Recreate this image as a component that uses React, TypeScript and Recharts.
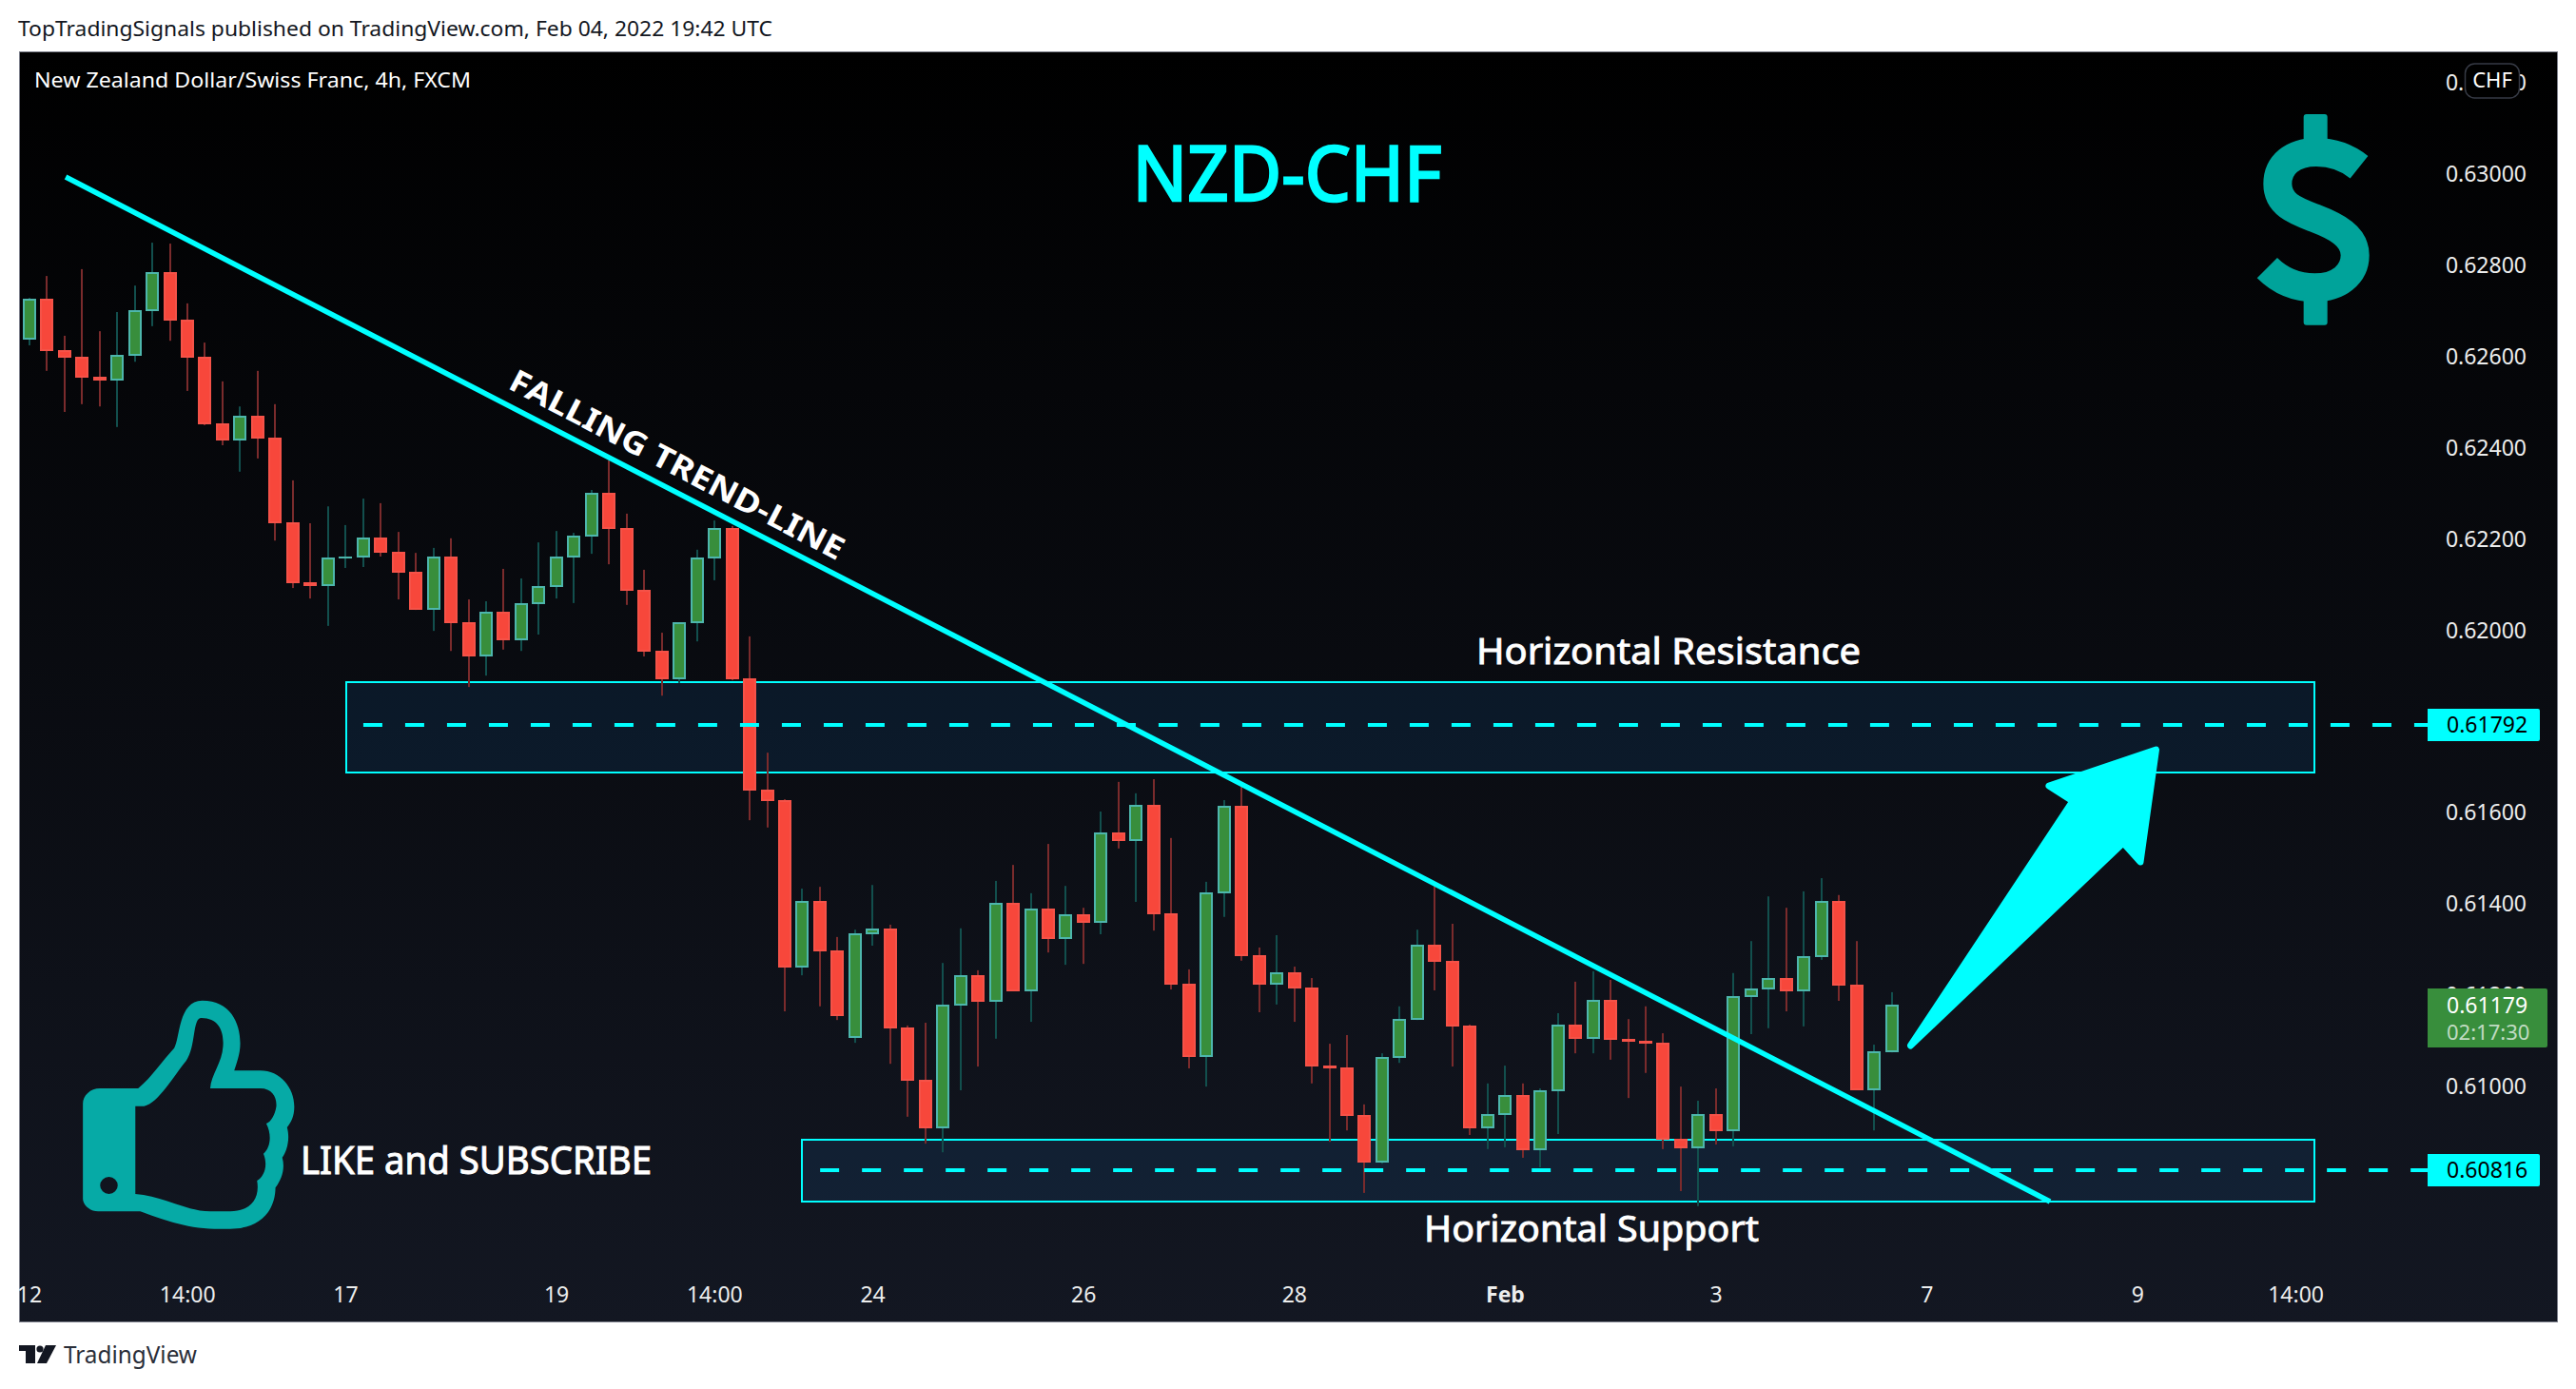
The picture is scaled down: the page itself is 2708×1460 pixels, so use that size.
import React from "react";
import { Bar, ComposedChart, ReferenceArea, ReferenceLine, XAxis, YAxis } from "recharts";

// Prices are stored in points of 0.00001
const opens = [
  62636, 62726, 62613, 62599, 62555, 62547, 62601, 62699, 62785, 62680,
  62599, 62453, 62415, 62470, 62422, 62236, 62105, 62096, 62157, 62159,
  62203, 62171, 62128, 62044, 62161, 62017, 61942, 62040, 61977, 62057,
  62094, 62159, 62205, 62301, 62223, 62088, 61954, 61892, 62015, 62157,
  62223, 61894, 61650, 61627, 61260, 61406, 61298, 61106, 61333, 61346,
  61129, 61014, 60908, 61177, 61243, 61185, 61402, 61208, 61389, 61323,
  61377, 61358, 61556, 61537, 61617, 61379, 61225, 61064, 61423, 61615,
  61287, 61222, 61250, 61216, 61045, 61041, 60937, 60832, 61062, 61145,
  61310, 61275, 61133, 60908, 60937, 60981, 60860, 60989, 61135, 61104,
  61189, 61104, 61099, 61095, 60885, 60864, 60939, 60901, 61195, 61212,
  61237, 61208, 61283, 61406, 61222, 60991, 61074,
];
const closes = [
  62726, 62611, 62597, 62553, 62547, 62603, 62701, 62785, 62678, 62597,
  62451, 62415, 62470, 62420, 62234, 62103, 62096, 62159, 62161, 62203,
  62169, 62126, 62044, 62161, 62015, 61942, 62040, 61977, 62059, 62096,
  62161, 62207, 62301, 62222, 62086, 61952, 61892, 62017, 62159, 62223,
  61892, 61648, 61625, 61260, 61406, 61295, 61154, 61335, 61346, 61127,
  61012, 60908, 61179, 61243, 61185, 61402, 61208, 61389, 61323, 61377,
  61358, 61556, 61537, 61617, 61377, 61222, 61064, 61425, 61615, 61285,
  61222, 61250, 61214, 61043, 61039, 60935, 60832, 61064, 61147, 61310,
  61273, 61131, 60908, 60939, 60981, 60860, 60991, 61135, 61104, 61189,
  61101, 61097, 61093, 60883, 60864, 60939, 60901, 61197, 61214, 61237,
  61208, 61285, 61406, 61220, 60991, 61077, 61179,
];
const highs = [
  62728, 62776, 62645, 62791, 62655, 62697, 62755, 62849, 62847, 62716,
  62630, 62545, 62490, 62568, 62495, 62328, 62234, 62271, 62230, 62288,
  62278, 62215, 62169, 62180, 62201, 62067, 62063, 62134, 62113, 62192,
  62217, 62213, 62307, 62372, 62255, 62132, 61994, 62017, 62176, 62240,
  62228, 61986, 61731, 61629, 61433, 61437, 61327, 61343, 61441, 61354,
  61133, 61139, 61270, 61346, 61254, 61450, 61485, 61423, 61531, 61439,
  61391, 61602, 61667, 61642, 61673, 61544, 61256, 61448, 61627, 61663,
  61304, 61331, 61262, 61237, 61093, 61112, 60960, 61072, 61175, 61343,
  61439, 61356, 61135, 61006, 61045, 61006, 60995, 61160, 61229, 61252,
  61233, 61147, 61175, 61116, 60999, 60968, 60995, 61248, 61318, 61416,
  61391, 61427, 61456, 61419, 61318, 61091, 61206,
];
const lows = [
  62624, 62568, 62478, 62495, 62490, 62445, 62588, 62666, 62634, 62524,
  62449, 62405, 62347, 62376, 62196, 62092, 62069, 62009, 62136, 62138,
  62161, 62067, 62044, 61998, 61954, 61875, 61900, 61957, 61954, 61990,
  62069, 62059, 62167, 62144, 62055, 61942, 61856, 61884, 61975, 62109,
  61890, 61583, 61567, 61164, 61243, 61175, 61145, 61095, 61308, 61049,
  60933, 60874, 60855, 60991, 61043, 61104, 61208, 61141, 61293, 61266,
  61268, 61333, 61521, 61404, 61341, 61212, 61039, 60999, 61371, 61275,
  61162, 61179, 61141, 61006, 60878, 60903, 60766, 60830, 61051, 61145,
  61210, 61043, 60893, 60862, 60866, 60843, 60822, 60895, 61072, 61072,
  61058, 60974, 61029, 60862, 60770, 60737, 60872, 60868, 61114, 61127,
  61164, 61131, 61277, 61187, 60991, 60903, 61074,
];

const priceTicks = [0.632, 0.63, 0.628, 0.626, 0.624, 0.622, 0.62, 0.618, 0.616, 0.614, 0.612, 0.61];
const timeTickIndex = [0, 9, 18, 30, 39, 48, 60, 72, 84, 96, 108, 120, 129];
const timeTickLabels = ["12", "14:00", "17", "19", "14:00", "24", "26", "28", "Feb", "3", "7", "9", "14:00"];

const resistanceLevel = 0.61792;
const supportLevel = 0.60816;
const lastPrice = 0.61179;
const countdown = "02:17:30";
const resistanceZone = { x1: 18.03, x2: 130.05, y1: 0.61886, y2: 0.61688 };
const supportZone = { x1: 43.96, x2: 130.05, y1: 0.60883, y2: 0.60747 };
const trend = { x1: 2.06, y1: 0.62993, x2: 115, y2: 0.60747 };

const table = opens.map((o, i) => ({
  i,
  open: o / 1e5,
  close: closes[i] / 1e5,
  high: highs[i] / 1e5,
  low: lows[i] / 1e5,
}));

const FONT = '"Noto Sans", "Open Sans", sans-serif';
const CYAN = "#00ffff";

function Candle(props: any) {
  const { x, y, width, height, payload } = props;
  const up = payload.close >= payload.open;
  const perUnit = height / (payload.high - payload.low);
  const cx = Math.round(x + width / 2);
  const top = Math.round(y + (payload.high - Math.max(payload.open, payload.close)) * perUnit);
  const bottom = Math.round(y + (payload.high - Math.min(payload.open, payload.close)) * perUnit);
  const h = Math.max(bottom - top, 2);
  const border = up ? "#4db6ac" : "#f55248";
  const fill = up ? "#388e3c" : "#f7473b";
  return (
    <g>
      <rect x={cx - 1} y={y} width={2} height={height} fill={up ? "#124f4d" : "#7a2b2c"} />
      <rect x={cx - 7} y={top} width={14} height={h} fill={border} />
      {h > 4 && <rect x={cx - 5} y={top + 2} width={10} height={h - 4} fill={fill} />}
    </g>
  );
}

function TimeTick(props: any) {
  const { x, y, payload } = props;
  const label = timeTickLabels[timeTickIndex.indexOf(payload.value)];
  return (
    <text
      x={x}
      y={y + 21}
      textAnchor="middle"
      fill="#eceded"
      fontSize={23}
      fontFamily={FONT}
      fontWeight={label === "Feb" ? 700 : 400}
    >
      {label}
    </text>
  );
}

function PriceTick(props: any) {
  const { x, y, payload } = props;
  return (
    <text x={x} y={y + 8.5} textAnchor="end" fill="#eceded" fontSize={23} fontFamily={FONT}>
      {payload.value.toFixed(5)}
    </text>
  );
}

const zoneShape = (p: any) => (
  <rect
    x={Math.round(p.x)}
    y={Math.round(p.y)}
    width={Math.round(p.width)}
    height={Math.round(p.height)}
    fill="#2196f3"
    fillOpacity={0.1}
    stroke={CYAN}
    strokeWidth={2}
  />
);
const dashShape = (p: any) => (
  <line x1={p.x1} y1={Math.round(p.y1)} x2={p.x2} y2={Math.round(p.y2)} stroke={CYAN} strokeWidth={4} strokeDasharray="20 24" />
);
const trendShape = (p: any) => <line x1={p.x1} y1={p.y1} x2={p.x2} y2={p.y2} stroke={CYAN} strokeWidth={5.5} />;

function Overlay() {
  const label = (py: number, value: number) => (
    <g>
      <path d={`M2552 ${py - 17} H2668 Q2670 ${py - 17} 2670 ${py - 15} V${py + 15} Q2670 ${py + 17} 2668 ${py + 17} H2552 Z`} fill={CYAN} />
      <text x={2572} y={py + 8} fontSize={23} fontFamily={FONT} fill="#000">
        {value.toFixed(5)}
      </text>
    </g>
  );
  return (
    <svg width={2708} height={1460} style={{ position: "absolute", left: 0, top: 0, pointerEvents: "none" }}>
      <text x={19} y={38} fontSize={22.5} fontFamily={FONT} fill="#131722" textLength={793} lengthAdjust="spacingAndGlyphs">
        TopTradingSignals published on TradingView.com, Feb 04, 2022 19:42 UTC
      </text>
      <text x={36} y={92} fontSize={22} fontFamily={FONT} fill="#ffffff" textLength={459} lengthAdjust="spacingAndGlyphs">
        New Zealand Dollar/Swiss Franc, 4h, FXCM
      </text>

      <text x={1353} y={211} textAnchor="middle" fontSize={80} fontFamily={FONT} fill={CYAN} stroke={CYAN} strokeWidth={2.5} textLength={325} lengthAdjust="spacingAndGlyphs">
        NZD-CHF
      </text>
      <text x={1754} y={698} textAnchor="middle" fontSize={39} fontFamily={FONT} fill="#ffffff" stroke="#ffffff" strokeWidth={0.9} textLength={404} lengthAdjust="spacingAndGlyphs">
        Horizontal Resistance
      </text>
      <text x={1673} y={1305} textAnchor="middle" fontSize={39} fontFamily={FONT} fill="#ffffff" stroke="#ffffff" strokeWidth={0.9} textLength={352} lengthAdjust="spacingAndGlyphs">
        Horizontal Support
      </text>
      <text x={316} y={1234} fontSize={40} fontFamily={FONT} fill="#ffffff" stroke="#ffffff" strokeWidth={1} textLength={369} lengthAdjust="spacingAndGlyphs">
        LIKE and SUBSCRIBE
      </text>
      <text
        transform="translate(712 488) rotate(27.6)"
        x={0}
        y={12}
        textAnchor="middle"
        fontSize={33}
        fontWeight={700}
        fontFamily={FONT}
        fill="#ffffff"
        textLength={392}
        lengthAdjust="spacingAndGlyphs"
      >
        FALLING TREND-LINE
      </text>

      {/* dollar sign */}
      <g transform="translate(2300 40) scale(0.33333)">
        <path
          d="M540 407 C500 375 450 360 405 360 C330 360 283 400 283 460 C283 525 340 545 400 568 C470 595 527 625 527 685 C527 745 475 787 400 787 C340 787 290 765 250 725"
          fill="none"
          stroke="#00a39a"
          strokeWidth={90}
        />
        <rect x={365} y={240} width={75} height={90} rx={9} fill="#00a39a" />
        <rect x={365} y={815} width={75} height={90} rx={9} fill="#00a39a" />
      </g>

      {/* thumb */}
      <g transform="translate(40 1020) scale(0.42088 0.33333)">
        <path
          fillRule="evenodd"
          fill="#06aaa6"
          d="M112 420 C112 395 130 372 155 372 L250 372 C285 335 310 285 340 245 C355 215 350 95 410 95 C480 95 505 165 505 230 C505 265 495 295 490 316 L555 316 C605 316 640 370 640 430 C640 460 632 480 622 495 C630 530 622 570 610 590 C618 625 608 660 593 685 C592 770 545 815 480 815 L440 815 C370 815 300 780 255 760 L150 760 C130 760 112 740 112 720 Z
             M243 428 L265 428 C300 420 340 330 370 285 C395 240 385 150 408 150 C450 150 465 190 462 240 C460 290 432 330 430 372 L555 372 C585 372 597 400 595 430 C592 455 582 478 570 483 C585 520 580 560 563 578 C575 615 565 650 547 663 C555 720 530 760 480 760 L430 760 C370 760 310 710 243 705 Z
             M155 678 A22 27 0 1 0 199 678 A22 27 0 1 0 155 678 Z"
        />
      </g>

      {/* arrow */}
      <path
        d="M2008.5 1099 L2179 842 L2154 826 L2266.5 788 L2250 906 L2232 886 Z"
        fill={CYAN}
        stroke={CYAN}
        strokeWidth={7}
        strokeLinejoin="round"
      />

      {/* price labels */}
      {label(762, resistanceLevel)}
      {label(1230, supportLevel)}
      <path d="M2552 1039 H2676 Q2678 1039 2678 1041 V1099 Q2678 1101 2676 1101 H2552 Z" fill="#388e3c" />
      <text x={2572} y={1065} fontSize={23} fontFamily={FONT} fill="#ffffff">
        {lastPrice.toFixed(5)}
      </text>
      <text x={2572} y={1093} fontSize={22} fontFamily={FONT} fill="#ffffff" fillOpacity={0.7}>
        {countdown}
      </text>

      <rect x={2591.5} y={67} width={57} height={36} rx={10} fill="#000000" stroke="#363a45" strokeWidth={1.5} />
      <text x={2620} y={92} textAnchor="middle" fontSize={22} fontFamily={FONT} fill="#ffffff">
        CHF
      </text>

      {/* TradingView mark */}
      <path d="M20 1414 H37 V1433 H27 V1420 H20 Z" fill="#131722" />
      <circle cx={42} cy={1418} r={3.6} fill="#131722" />
      <path d="M48 1414 H59 L49 1433 H39 Z" fill="#131722" />
      <text x={67} y={1433} fontSize={26} fontFamily={FONT} fill="#2a2e39" textLength={140} lengthAdjust="spacingAndGlyphs">
        TradingView
      </text>
    </svg>
  );
}

export default function App() {
  return (
    <div style={{ position: "absolute", left: 0, top: 0, width: 2708, height: 1460, background: "#ffffff", overflow: "hidden" }}>
      <div
        style={{
          position: "absolute",
          left: 20,
          top: 54,
          width: 2667,
          height: 1334,
          border: "1px solid #7d808c",
          background: "linear-gradient(180deg, #000000 0%, #131722 100%)",
        }}
      />
      <div style={{ position: "absolute", left: 0, top: 0 }}>
        <ComposedChart width={2708} height={1460} data={table} margin={{ top: 54, right: 20, bottom: 70, left: 20 }}>
          <XAxis
            dataKey="i"
            type="number"
            domain={[-0.5956, 143.855]}
            ticks={timeTickIndex}
            interval={0}
            height={50}
            axisLine={false}
            tickLine={false}
            tick={<TimeTick />}
          />
          <YAxis
            orientation="right"
            mirror
            type="number"
            domain={[0.605864, 0.632684]}
            ticks={priceTicks}
            interval={0}
            axisLine={false}
            tickLine={false}
            tickSize={0}
            tickMargin={32}
            tick={<PriceTick />}
          />
          <ReferenceArea {...resistanceZone} shape={zoneShape} ifOverflow="visible" />
          <ReferenceArea {...supportZone} shape={zoneShape} ifOverflow="visible" />
          <ReferenceLine segment={[{ x: 19, y: resistanceLevel }, { x: 136.5, y: resistanceLevel }]} shape={dashShape} />
          <ReferenceLine segment={[{ x: 45, y: supportLevel }, { x: 136.5, y: supportLevel }]} shape={dashShape} />
          <ReferenceLine segment={[{ x: trend.x1, y: trend.y1 }, { x: trend.x2, y: trend.y2 }]} shape={trendShape} />
          <Bar dataKey={(d: any) => [d.low, d.high]} barSize={14} shape={<Candle />} isAnimationActive={false} />
        </ComposedChart>
      </div>
      <Overlay />
    </div>
  );
}
